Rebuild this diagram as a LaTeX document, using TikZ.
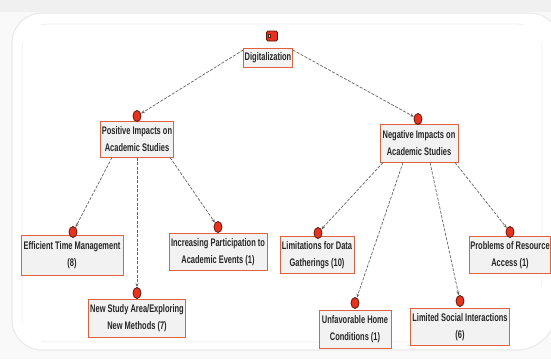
\documentclass[tikz,border=0pt]{standalone}
\usepackage{fontspec}
\setmainfont{Liberation Sans}[FakeStretch=0.68]
\usetikzlibrary{shapes.geometric,arrows.meta,calc}
\definecolor{boxred}{HTML}{E0603F}
\definecolor{dotred}{HTML}{E8321E}
\definecolor{dotedge}{HTML}{5A1A10}
\definecolor{boxfill}{HTML}{F2F2F2}
\definecolor{linegrey}{HTML}{66625E}
\begin{document}
\begin{tikzpicture}[x=1pt,y=-1pt,
  topic/.style={draw=boxred,line width=1pt,fill=boxfill,align=center,
    inner sep=1pt,font=\fontsize{11}{17.5}\selectfont\bfseries,text=black!85},
  dot/.style={ellipse,draw=dotedge,line width=0.8pt,fill=dotred,
    minimum width=8pt,minimum height=11pt,inner sep=0pt},
  link/.style={draw=linegrey,line width=0.7pt,dash pattern=on 3pt off 1.5pt,
    -{Stealth[length=4pt,width=3pt]}}]
\useasboundingbox (0,0) rectangle (551,359);
% background and panel
\fill[white!95!gray] (0,0) rectangle (551,359);
\fill[white!88!gray] (0,0) rectangle (551,12);
\draw[white!84!gray,line width=1.2pt,fill=white,rounded corners=30pt] (12,13) -- (560,13) -- (560,300) -- (548,350) -- (12,350) -- cycle;
\draw[white!88!gray,line width=0.8pt,rounded corners=26pt] (22,24) -- (542,24) -- (542,300) -- (520,342) -- (22,342) -- cycle;
\fill[white] (23,25) rectangle (541,341);
% boxes
\node[topic,minimum width=48pt,minimum height=19pt] (dig) at (268,58) {Digitalization};
\node[topic,minimum width=73pt,minimum height=36pt] (pos) at (137,139) {Positive Impacts on\\Academic Studies};
\node[topic,minimum width=78pt,minimum height=38pt] (neg) at (419,143) {Negative Impacts on\\Academic Studies};
\node[topic,minimum width=102pt,minimum height=40pt] (eff) at (72,255) {Efficient Time Management\\(8)};
\node[topic,minimum width=98pt,minimum height=37pt] (inc) at (218,252) {Increasing Participation to\\Academic Events (1)};
\node[topic,minimum width=97pt,minimum height=38pt] (nsa) at (137,318) {New Study Area/Exploring\\New Methods (7)};
\node[topic,minimum width=74pt,minimum height=37pt] (lim) at (317,255) {Limitations for Data\\Gatherings (10)};
\node[topic,minimum width=80pt,minimum height=37pt] (pra) at (510,255) {Problems of Resource\\Access (1)};
\node[topic,minimum width=72pt,minimum height=38pt] (unf) at (355,329) {Unfavorable Home\\Conditions (1)};
\node[topic,minimum width=99pt,minimum height=37pt] (lsi) at (460,327) {Limited Social Interactions\\(6)};
% icon
\node[draw=dotedge,line width=0.8pt,fill=dotred,rounded corners=1.5pt,
  minimum width=11pt,minimum height=10pt,inner sep=0pt] (icon) at (272,36) {};
\fill[white,draw=dotedge,line width=0.4pt] ($(icon.west)+(2,-1.5)$) rectangle ($(icon.west)+(4.5,1.5)$);
% dots
\node[dot] (pc) at (137,116) {};
\node[dot] (nc) at (418,119) {};
\node[dot] (ec) at (73,232) {};
\node[dot] (ic) at (218,227) {};
\node[dot] (sc) at (137,293) {};
\node[dot] (lc) at (318,233) {};
\node[dot] (rc) at (510,232) {};
\node[dot] (uc) at (355,303) {};
\node[dot] (tc) at (460,301) {};
% connectors
\draw[link] (dig.162) -- (pc);
\draw[link] (dig.18) -- (nc);
\draw[link] ($(pos.south)+(-25,0)$) -- (ec);
\draw[link] (pos.south) -- (sc);
\draw[link] ($(pos.south)+(33,0)$) -- (ic);
\draw[link] ($(neg.south)+(-36,0)$) -- (lc);
\draw[link] ($(neg.south)+(-16,0)$) -- (uc);
\draw[link] ($(neg.south)+(11,0)$) -- (tc);
\draw[link] ($(neg.south)+(36,0)$) -- (rc);
\end{tikzpicture}
\end{document}
